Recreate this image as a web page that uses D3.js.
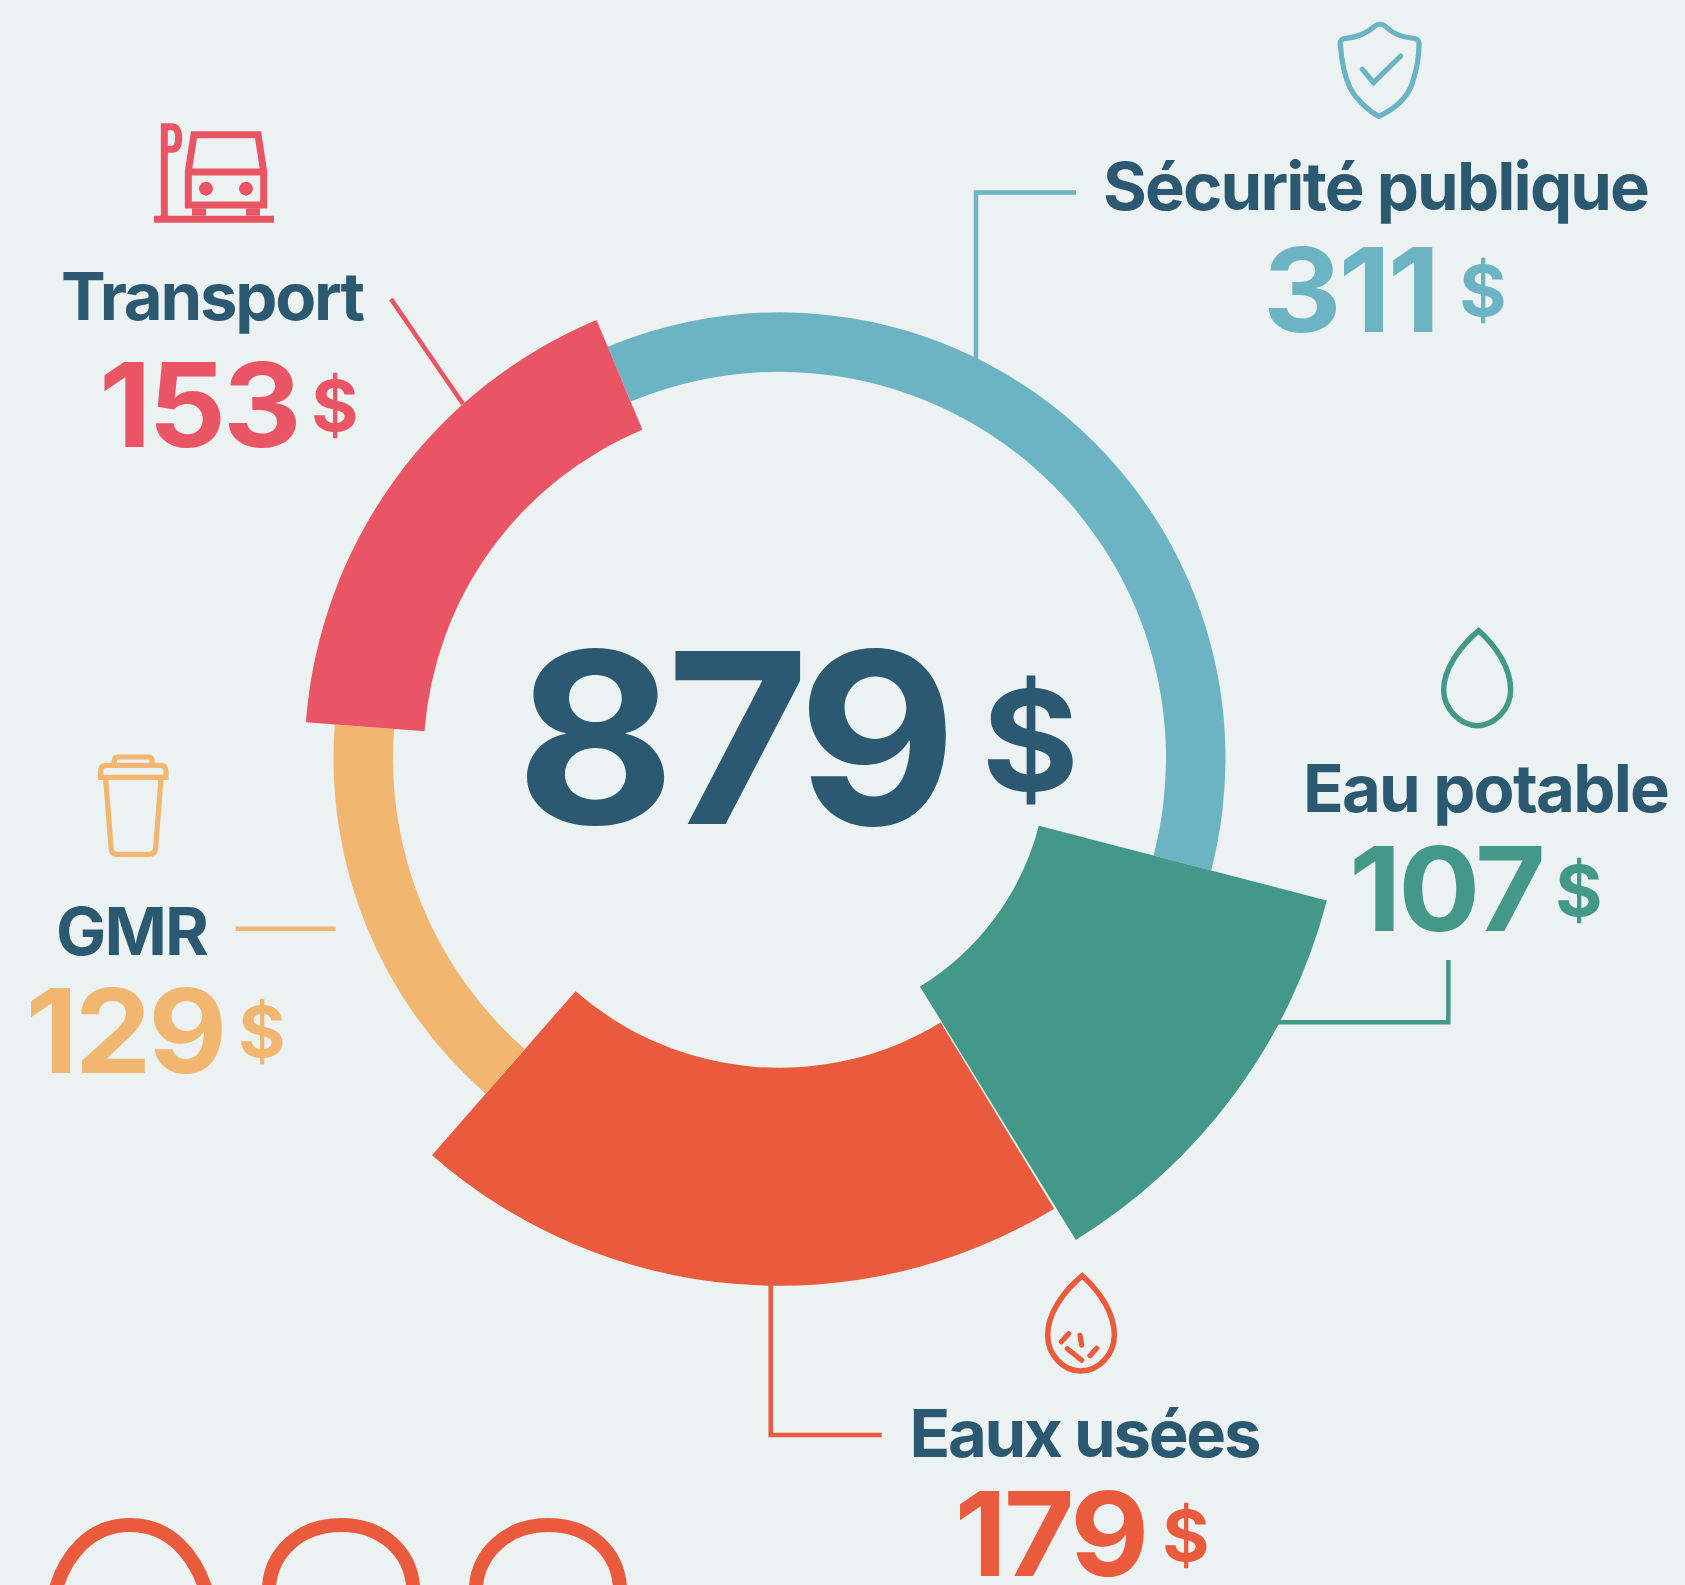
<!DOCTYPE html>
<html><head><meta charset="utf-8">
<script src="https://cdn.jsdelivr.net/npm/d3@7/dist/d3.min.js"></script>
<style>html,body{margin:0;padding:0;background:#ecf2f2}svg{display:block}text{font-family:Inter,sans-serif;font-weight:700}</style>
</head><body><svg id="c" width="1685" height="1585"></svg>
<script>
// data
const categories = ["Sécurité publique","Eau potable","Eaux usées","GMR","Transport"];
const values = [311,107,179,129,153];
const totalLabel = "879";
const currency = "$";
// style
const colors = ["#6cb3c4","#44988a","#e95b3c","#f1b670","#e95564"];
const inkColor = "#2b5972";
const innerRadii = [386.5,268,309.5,386.5,356];
const outerRadii = [446,565.5,527.5,446,475];
const angleNudgeDeg = [[0.25,0.1],[0.1,0.1],[0.33,-0.4],[-0.4,-0.1],[-0.1,0.25]];
const startDeg = -22.9;
const center = [779.5,758.3];
const labelStretch = 1.015;
const valueStretch = 1.04;
const labelLayout = [
 {name:[1103,210,547],val:[1263,331.7],cur:[1459.3,316]},
 {name:[1303,811.7,367],val:[1349,931],cur:[1555.3,915.7]},
 {name:[909.5,1457,352],val:[954.5,1576],cur:[1162.3,1561]},
 {name:[56,955,153],val:[25.5,1072.7],cur:[238.3,1057]},
 {name:[61,320,304],val:[99,446.7],cur:[311.3,431]}
];
const leaders = [
 [[1076,192.5],[976,192.5],[976,360]],
 [[1448.3,960],[1448.3,1022.3],[1278,1022.3]],
 [[881.7,1435],[770.7,1435],[770.7,1284]],
 [[235.7,928.7],[335.7,928.7]],
 [[391,299],[463,404]]
];
const svg = d3.select("#c");
svg.append("rect").attr("width",1685).attr("height",1585).attr("fill","#ecf2f2");
const rad = Math.PI/180;
const pie = d3.pie().sort(null).startAngle(startDeg*rad).endAngle((startDeg+360)*rad);
const arcs = pie(values);
const arc = d3.arc();
leaders.forEach((p,i)=>svg.append("path").attr("d",d3.line()(p)).attr("fill","none").attr("stroke",colors[i]).attr("stroke-width",4.5));
svg.append("g").attr("transform",`translate(${center})`).selectAll("path").data(arcs).join("path")
 .attr("d",(d,i)=>arc({startAngle:d.startAngle+angleNudgeDeg[i][0]*rad,endAngle:d.endAngle+angleNudgeDeg[i][1]*rad,innerRadius:innerRadii[i],outerRadius:outerRadii[i]}))
 .attr("fill",(d,i)=>colors[i]);
function label(str,x,y,size,fill,sx,ls,len){
 const t=svg.append("text").attr("transform",`translate(${x},${y}) scale(${sx},1)`).attr("font-size",size).attr("fill",fill).text(str);
 if(ls) t.attr("letter-spacing",ls);
 if(len) t.attr("textLength",len/sx).attr("lengthAdjust","spacing");
}
label(totalLabel,515.8,823.5,238,inkColor,1.03,-8.6);
label(currency,981.8,790.8,140,inkColor,1.06);
categories.forEach((c,i)=>{
 const L=labelLayout[i];
 label(c,L.name[0],L.name[1],66,inkColor,labelStretch,0,L.name[2]);
 label(String(values[i]),L.val[0],L.val[1],117,colors[i],valueStretch,-3);
 label(currency,L.cur[0],L.cur[1],70,colors[i],1.03);
});
// icons
function icon(ox,oy,sx,sy,color,items){
 const g=svg.append("g").attr("transform",`translate(${ox},${oy}) scale(${1/sx},${1/sy})`);
 items.forEach(it=>{
  g.append("path").attr("d",it.d).attr("fill",it.fill?color:"none").attr("stroke",it.w?color:"none")
   .attr("stroke-width",it.w||0).attr("vector-effect","non-scaling-stroke").attr("stroke-linecap",it.cap||"butt").attr("stroke-linejoin",it.join||"miter");
 });
}
icon(120,100,3,3,colors[4],[
 {d:"M133,358 V80 H155 Q176,80 176,114 Q176,148 155,148 H133",w:7},
 {d:"M102,347 H462 V368 H102 Z",fill:1},
 {d:"M222,104 H414 L431,214 V315 H205 V214 Z",w:7},
 {d:"M205,216 H431",w:7},
 {d:"M216,325 H258 V347 H216 Z",fill:1},
 {d:"M378,325 H420 V347 H378 Z",fill:1},
 {d:"M237,266 a21,21 0 1,0 42,0 a21,21 0 1,0 -42,0 Z",fill:1},
 {d:"M357,266 a21,21 0 1,0 42,0 a21,21 0 1,0 -42,0 Z",fill:1}
]);
icon(1080,0,2.613,3,colors[0],[
 {d:"M781,349 C830,322 858,285 868,250 C880,210 886,170 886,130 C886,118 878,115 866,114 C840,112 815,98 797,78 C790,71 778,71 771,78 C752,97 725,112 695,115 C684,116 679,122 680,132 C683,175 690,225 705,262 C720,295 750,330 781,349 Z",w:5.2,join:"round"},
 {d:"M738,208 L767,248 L838,168",w:5.2,cap:"round"}
]);
icon(0,730,3,3,colors[3],[
 {d:"M302,142 V122 Q302,106 318,106 H482 Q498,106 498,122 V142 Z",w:5.2},
 {d:"M343,100 V92 Q343,81 354,81 H446 Q456,81 456,92 V100",w:5.2},
 {d:"M317,145 L333,352 Q334,373 352,373 H448 Q466,373 467,352 L483,145",w:5.2}
]);
icon(1280,610,3,3,colors[1],[
 {d:"M596,62 C650,110 692,175 692,240 C692,295 645,347 592,347 C540,347 491,295 491,240 C491,175 540,110 596,62 Z",w:5.5}
]);
icon(760,1250,3,3,colors[2],[
 {d:"M967,77 C1020,125 1063,190 1063,255 C1063,315 1015,363 962,363 C910,363 863,315 863,255 C863,190 910,125 967,77 Z",w:5.5},
 {d:"M904,275 L926,251 M960,256 L965,285 M922,296 L965,331 M990,317 L1010,295",w:5.2,cap:"round"}
]);
icon(0,1490,2.306,3,colors[2],[
 {d:"M128,300 C150,200 205,105 300,105 C395,105 450,200 475,300",w:14},
 {d:"M620,300 C622,190 690,105 787,105 C880,105 950,185 953,300",w:14},
 {d:"M1097,300 C1100,190 1170,105 1263,105 C1360,105 1427,185 1430,300",w:14}
]);
</script></body></html>
